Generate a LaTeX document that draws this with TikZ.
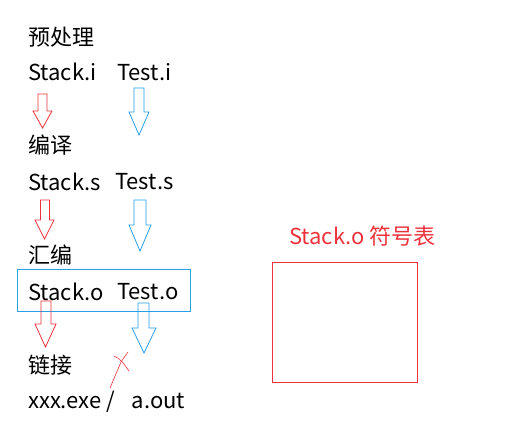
\documentclass[tikz,border=0pt]{standalone}
\usepackage{fontspec}
\setmainfont{Noto Sans CJK SC}
\definecolor{redln}{RGB}{237,50,60}
\definecolor{blueln}{RGB}{40,160,230}
\begin{document}
\begin{tikzpicture}[x=1pt,y=-1pt,
  txt/.style={anchor=west,inner sep=0pt,font=\fontsize{22}{24}\selectfont},
  rarr/.style={draw=redln,line width=0.8pt,line join=miter},
  barr/.style={draw=blueln,line width=0.8pt,line join=miter}]
\useasboundingbox (0,0) rectangle (511,445);
% block arrow: style, left shaft x, right shaft x, top, shaft bottom, head left, head right, tip
\newcommand\blockarrow[8]{%
  \draw[#1] (#2,#4) -- (#3,#4) -- (#3,#5) -- (#7,#5) -- ({(#6+#7)/2},#8) -- (#6,#5) -- (#2,#5) -- cycle;}
\node[txt] (pre) at (28,37) {预处理};
\node[txt] (si) at (28,72) {Stack.i};
\node[txt] (ti) at (117,72) {Test.i};
\blockarrow{rarr}{38}{47}{94}{111}{33}{52}{128}
\blockarrow{barr}{134}{144}{88}{112}{129}{149}{135}
\node[txt] (cmp) at (28,145) {编译};
\node[txt] (ss) at (28,182) {Stack.s};
\node[txt] (ts) at (115,182) {Test.s};
\blockarrow{rarr}{40.5}{49.5}{200}{220}{35}{54}{239}
\blockarrow{barr}{134}{146}{200}{225}{129}{151}{251}
\node[txt] (asm) at (28,255) {汇编};
\draw[blueln,line width=0.8pt] (17,269) rectangle (190,311);
\node[txt] (so) at (28,292) {Stack.o};
\node[txt] (to) at (117,292) {Test.o};
\blockarrow{rarr}{41}{51}{301}{324}{35}{56}{347}
\blockarrow{barr}{138}{149}{303}{328}{132}{156}{353}
\node[txt] (lnk) at (28,365) {链接};
\node[txt] (exe) at (28,402) {xxx.exe /\hspace{17pt}a.out};
\draw[redln,line width=0.6pt] (110,388) -- (121,362) -- (128,352);
\draw[redln,line width=0.6pt] (114,356) .. controls (120,358) and (124,364) .. (129,371);
\node[txt,text=redln] (sym) at (289,236) {Stack.o 符号表};
\draw[redln,line width=0.8pt] (272,262) rectangle (417,382);
\end{tikzpicture}
\end{document}
